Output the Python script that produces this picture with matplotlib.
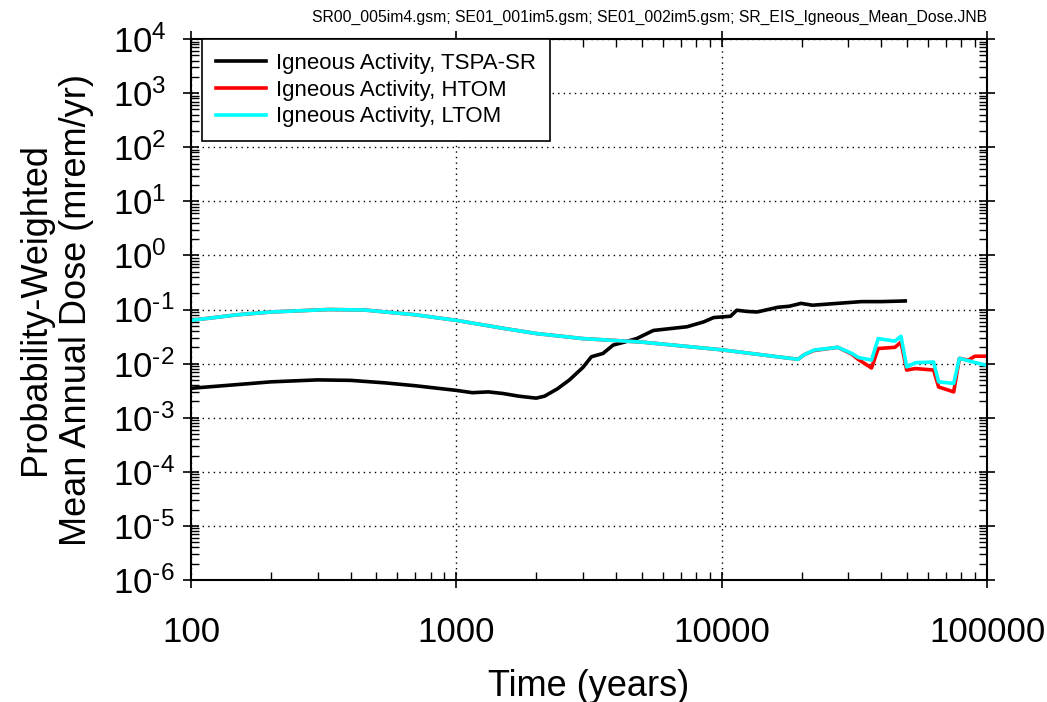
import matplotlib
matplotlib.use("Agg")
import matplotlib.pyplot as plt
from matplotlib.ticker import LogLocator, FixedLocator, FixedFormatter, NullFormatter

plt.rcParams['font.family'] = ['Liberation Sans', 'DejaVu Sans']
plt.rcParams['mathtext.fontset'] = 'custom'
plt.rcParams['mathtext.rm'] = 'Liberation Sans'
plt.rcParams['mathtext.it'] = 'Liberation Sans'

# --- data ---
t_tspa = [100, 150, 200, 300, 400, 540, 700, 1000, 1150, 1320, 1500, 1720, 2000, 2150,
          2400, 2670, 3000, 3230, 3570, 3900, 4300, 4780, 5530, 6300, 7400, 8550, 9330,
          10800, 11400, 12500, 13600, 16300, 18000, 19900, 22000, 27400, 33700, 40000, 49200]
d_tspa = [0.0035, 0.0041, 0.0046, 0.0050, 0.0049, 0.0044, 0.0039, 0.0032, 0.0029, 0.0030,
          0.0028, 0.0025, 0.0023, 0.0025, 0.0034, 0.0050, 0.0085, 0.0134, 0.0154, 0.022,
          0.025, 0.029, 0.041, 0.044, 0.048, 0.059, 0.071, 0.075, 0.097, 0.092, 0.09,
          0.11, 0.115, 0.13, 0.12, 0.13, 0.14, 0.14, 0.144]

t_htom = [100, 150, 200, 330, 450, 700, 1000, 1500, 2000, 3000, 5000, 10000, 19400,
          20400, 22300, 27400, 30900, 32700, 36700, 38900, 45000, 47400, 49800, 53700,
          62900, 65700, 74900, 78700, 85000, 90000, 98600]
d_htom = [0.063, 0.080, 0.090, 0.100, 0.098, 0.080, 0.063, 0.045, 0.036, 0.029, 0.025,
          0.018, 0.012, 0.0145, 0.0175, 0.020, 0.0150, 0.0120, 0.0083, 0.019, 0.020,
          0.025, 0.0076, 0.0081, 0.0076, 0.0037, 0.0030, 0.0125, 0.0116, 0.0137, 0.0137]

t_ltom = [100, 150, 200, 330, 450, 700, 1000, 1500, 2000, 3000, 5000, 10000, 19400,
          20400, 22300, 27400, 30900, 32700, 36700, 38900, 45000, 47400, 49800, 53700,
          62900, 65700, 74900, 78700, 90000, 98600]
d_ltom = [0.063, 0.080, 0.090, 0.100, 0.098, 0.080, 0.063, 0.045, 0.036, 0.029, 0.025,
          0.018, 0.012, 0.0145, 0.0178, 0.020, 0.0155, 0.0130, 0.0116, 0.029, 0.026,
          0.032, 0.0087, 0.0104, 0.0107, 0.0046, 0.0043, 0.0125, 0.0105, 0.0094]

labels = ["Igneous Activity, TSPA-SR", "Igneous Activity, HTOM", "Igneous Activity, LTOM"]
x_ticks = [100, 1000, 10000, 100000]
x_ticklabels = ["100", "1000", "10000", "100000"]
y_exps = list(range(-6, 5))

fig = plt.figure(figsize=(10.47, 7.02), dpi=100)
ax = fig.add_axes([0.1824, 0.1738, 0.7603, 0.7706])

ax.plot(t_tspa, d_tspa, color='black', lw=2.6, label=labels[0])
ax.plot(t_htom, d_htom, color='red', lw=2.6, label=labels[1])
ax.plot(t_ltom, d_ltom, color='cyan', lw=2.6, label=labels[2])

ax.set_xscale('log')
ax.set_yscale('log')
ax.set_xlim(100, 100000)
ax.set_ylim(1e-6, 1e4)

ax.xaxis.set_major_locator(FixedLocator(x_ticks))
ax.xaxis.set_major_formatter(FixedFormatter(x_ticklabels))
ax.xaxis.set_minor_locator(LogLocator(base=10, subs=range(2, 10), numticks=20))
ax.xaxis.set_minor_formatter(NullFormatter())

def ylab(e):
    if e < 0:
        return r'$\mathregular{10^{\text{-}%d}}$' % (-e)
    return r'$\mathregular{10^{%d}}$' % e

yt = [10.0 ** e for e in y_exps]
ax.yaxis.set_major_locator(FixedLocator(yt))
ax.yaxis.set_major_formatter(FixedFormatter([ylab(e) for e in y_exps]))
ax.yaxis.set_minor_locator(LogLocator(base=10, subs=range(2, 10), numticks=30))
ax.yaxis.set_minor_formatter(NullFormatter())

ax.tick_params(which='major', direction='inout', length=12, width=1.2,
               top=True, right=True, labelsize=25)
ax.tick_params(axis='x', which='major', pad=20)
ax.tick_params(axis='y', which='major', pad=50)
for lbl in ax.get_yticklabels():
    lbl.set_horizontalalignment('left')
ax.tick_params(which='minor', direction='in', length=6, width=1.0, top=True, right=True)
for s in ax.spines.values():
    s.set_linewidth(1.5)

ax.grid(True, which='major', color='black', linestyle=(0, (1, 3)), linewidth=1.0)

ax.set_xlabel('Time (years)', fontsize=26, labelpad=14)
ax.set_ylabel('Probability-Weighted\nMean Annual Dose (mrem/yr)', fontsize=26, labelpad=14)

leg = ax.legend(loc='upper left', bbox_to_anchor=(0.0138, 1.0), fontsize=16, frameon=True,
                fancybox=False, borderaxespad=0, handlelength=2.25, borderpad=0.62,
                labelspacing=0.26, handletextpad=0.45)
leg.get_frame().set_edgecolor('black')
leg.get_frame().set_linewidth(1.2)
leg.get_frame().set_alpha(1)

fig.text(0.9427, 0.975, "SR00_005im4.gsm; SE01_001im5.gsm; SE01_002im5.gsm; SR_EIS_Igneous_Mean_Dose.JNB",
         ha='right', va='center', fontsize=11.3)

fig.savefig('out.png', dpi=100)
